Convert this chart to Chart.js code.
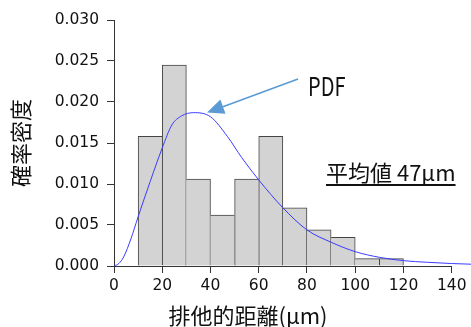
<!DOCTYPE html>
<html>
<head>
<meta charset="utf-8">
<script src="https://cdn.jsdelivr.net/npm/chart.js"></script>
<style>
  html, body { margin: 0; padding: 0; background: #fff; }
  #wrap { width: 471px; height: 327px; }
</style>
</head>
<body>
<div id="wrap"><canvas id="histChart" width="471" height="327"></canvas></div>
<script>
// histogram bins (start of each 10 µm bin) and densities
const binStart = [10, 20, 30, 40, 50, 60, 70, 80, 90, 100, 110]
const binWidth = 10
const density = [0.0158, 0.0245, 0.0106, 0.0062, 0.0106, 0.0158, 0.0071, 0.0044, 0.0035, 0.0009, 0.0009]

// fitted PDF curve
const pdfX = [0, 2, 4, 7, 10, 15, 20, 24, 28, 33, 40, 47, 53, 60, 70, 80, 90, 100, 110, 120, 130, 140, 150]
const pdfY = [0, 0.0003, 0.0011, 0.0033, 0.0060, 0.0103, 0.0144, 0.0172, 0.0183, 0.0187, 0.0182, 0.0158, 0.0132, 0.0105, 0.0071, 0.0044, 0.0029, 0.00175, 0.00106, 0.00065, 0.00045, 0.0003, 0.0002]

const xTickMax = 140
const meanLabel = "平均値 47μm"

const textColor = "#111"
const lineColor = "#333"

const extras = {
  id: "extras",
  afterDraw(chart) {
    const { ctx, scales } = chart
    const x = scales.x, y = scales.y
    ctx.save()

    // x axis line only from 0 to last tick
    const y0 = Math.round(y.getPixelForValue(0)) + 0.5
    ctx.strokeStyle = lineColor
    ctx.lineWidth = 1
    ctx.beginPath()
    ctx.moveTo(x.getPixelForValue(0), y0)
    ctx.lineTo(x.getPixelForValue(xTickMax), y0)
    ctx.stroke()

    // x title
    ctx.fillStyle = textColor
    ctx.font = '22px "Noto Sans CJK JP"'
    ctx.textAlign = "center"
    ctx.textBaseline = "middle"
    ctx.fillText("排他的距離(μm)", 248, 316)

    // arrow to the curve
    const ax = 298, ay = 79, tx = 207, ty = 112.5
    const ang = Math.atan2(ty - ay, tx - ax)
    const headLen = 17, headW = 7.5
    const bx = tx - headLen * Math.cos(ang), by = ty - headLen * Math.sin(ang)
    ctx.strokeStyle = "#5b9bd5"
    ctx.fillStyle = "#5b9bd5"
    ctx.lineWidth = 1.6
    ctx.beginPath()
    ctx.moveTo(ax, ay)
    ctx.lineTo(bx, by)
    ctx.stroke()
    ctx.beginPath()
    ctx.moveTo(tx, ty)
    ctx.lineTo(bx + headW * Math.sin(ang), by - headW * Math.cos(ang))
    ctx.lineTo(bx - headW * Math.sin(ang), by + headW * Math.cos(ang))
    ctx.closePath()
    ctx.fill()

    // PDF label (narrow)
    ctx.fillStyle = textColor
    ctx.textAlign = "left"
    ctx.textBaseline = "alphabetic"
    ctx.save()
    ctx.translate(308, 96)
    ctx.scale(0.8, 1)
    ctx.font = '25px "Noto Sans CJK JP"'
    ctx.fillText("PDF", 0, 0)
    ctx.restore()

    // mean label, underlined
    ctx.font = '22px "Noto Sans CJK JP"'
    ctx.textBaseline = "middle"
    const w = ctx.measureText(meanLabel).width
    ctx.fillText(meanLabel, 326, 173)
    ctx.fillRect(326, 184, w, 2)

    ctx.restore()
  }
}

new Chart(document.getElementById("histChart"), {
  type: "bar",
  data: {
    datasets: [
      {
        type: "line",
        label: "PDF",
        data: pdfX.map((v, i) => ({ x: v, y: pdfY[i] })),
        borderColor: "#3b3bff",
        borderWidth: 1,
        pointRadius: 0,
        cubicInterpolationMode: "monotone",
        fill: false,
        order: 1,
      },
      {
        label: "density",
        data: binStart.map((s, i) => ({ x: s + binWidth / 2, y: density[i] })),
        backgroundColor: "#d3d3d3",
        borderColor: "#444",
        borderSkipped: "start",
        borderWidth: (c) => {
          const i = c.dataIndex
          const h = density[i]
          const prev = i > 0 ? density[i - 1] : 0
          const next = i < density.length - 1 ? density[i + 1] : 0
          return { top: 1, bottom: 0, left: h >= prev ? 1 : 0, right: h > next ? 1 : 0 }
        },
        barPercentage: 1,
        categoryPercentage: 1,
        order: 2,
      },
    ],
  },
  options: {
    responsive: false,
    animation: false,
    layout: { padding: { top: 20, right: 0, bottom: 0, left: 0 } },
    plugins: { legend: { display: false }, tooltip: { enabled: false } },
    scales: {
      x: {
        type: "linear",
        min: 0,
        max: 148,
        offset: false,
        border: { display: false },
        grid: { offset: false, drawOnChartArea: false, drawTicks: true, tickLength: 7, color: lineColor },
        ticks: {
          stepSize: 20,
          includeBounds: false,
          maxRotation: 0,
          padding: 4,
          color: textColor,
          font: { family: "DejaVu Sans", size: 15.5 },
        },
        afterFit: (s) => { s.height = 61 },
      },
      y: {
        min: 0,
        max: 0.03,
        border: { display: true, color: lineColor, width: 1 },
        grid: { drawOnChartArea: false, drawTicks: true, tickLength: 7, color: lineColor },
        ticks: {
          stepSize: 0.005,
          padding: 8,
          color: textColor,
          font: { family: "DejaVu Sans", size: 15.5 },
          callback: (v) => v.toFixed(3),
        },
        title: {
          display: true,
          text: "確率密度",
          color: textColor,
          font: { family: "Noto Sans CJK JP", size: 22, lineHeight: 1 },
          padding: { top: 10, bottom: 0 },
        },
        afterFit: (s) => { s.width = 114 },
      },
    },
  },
  plugins: [extras],
})
</script>
</body>
</html>
